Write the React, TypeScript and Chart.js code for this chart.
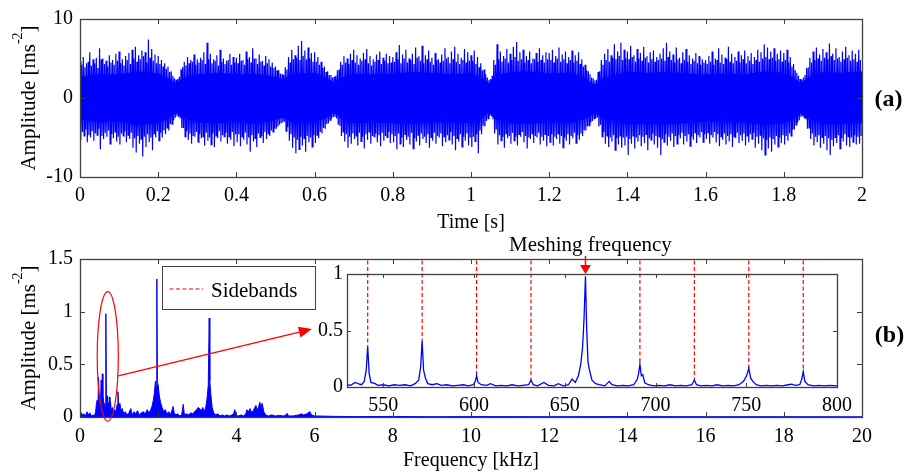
import React, { useEffect, useRef } from "react";
import { Chart, registerables } from "chart.js";

Chart.register(...registerables);

const SERIF = "'Liberation Serif', 'Times New Roman', serif";
const BLUE = "#0000ff";
const RED = "#ff0000";
const AXIS = "#404040";

// ---------- (a) time signal ----------
const TIME_TICKS = [0, 0.2, 0.4, 0.6, 0.8, 1, 1.2, 1.4, 1.6, 1.8, 2];
const ACC_TICKS = [-10, 0, 10];

// envelope of the solid core of the vibration trace [s] / [m/s^2]
const CORE_T = [0, 0.05, 0.1, 0.15, 0.2, 0.228, 0.245, 0.262, 0.3, 0.35, 0.4, 0.45, 0.5, 0.518, 0.54, 0.6, 0.63, 0.648, 0.666, 0.7, 0.75, 0.8, 0.85, 0.9, 0.95, 1.0, 1.028, 1.045, 1.062, 1.1, 1.15, 1.2, 1.25, 1.29, 1.315, 1.34, 1.4, 1.45, 1.5, 1.55, 1.6, 1.65, 1.7, 1.75, 1.8, 1.825, 1.843, 1.86, 1.9, 1.95, 2.0];
const CORE_HI = [2.7, 3.0, 3.0, 3.4, 3.1, 2.5, 1.9, 2.5, 3.0, 3.2, 3.0, 3.1, 2.7, 2.3, 3.0, 3.2, 2.6, 2.0, 2.5, 3.1, 3.0, 3.1, 3.3, 3.2, 3.0, 3.1, 2.5, 1.9, 2.8, 3.3, 3.4, 3.1, 3.2, 2.6, 1.7, 2.5, 3.4, 3.2, 3.3, 3.1, 3.0, 3.1, 3.0, 3.4, 3.2, 2.6, 1.9, 2.5, 3.3, 3.2, 3.4];
const CORE_LO = [-2.8, -3.1, -3.0, -3.5, -3.2, -2.5, -1.9, -2.5, -3.1, -3.2, -3.1, -3.3, -2.8, -2.5, -3.1, -3.2, -2.5, -1.9, -2.5, -3.2, -3.1, -3.2, -3.3, -3.1, -3.1, -3.2, -2.6, -1.8, -2.7, -3.2, -3.3, -3.1, -3.2, -2.7, -2.0, -2.5, -3.4, -3.3, -3.4, -3.2, -3.0, -3.1, -3.1, -3.4, -3.2, -2.7, -2.0, -2.6, -3.3, -3.3, -3.2];

// outer positive / negative peaks of the trace, 24 per 0.2 s
const PEAK_HI = [
  4.6, 5.2, 4.4, 5.8, 4.9, 5.1, 6.3, 5.0, 4.7, 5.4, 4.8, 5.6, 5.9, 4.9, 5.3, 5.7, 6.1, 6.5, 5.4, 6.0, 5.8, 7.4, 6.2, 5.5,
  5.3, 4.8, 4.4, 4.0, 3.4, 2.5, 2.4, 3.6, 4.6, 5.2, 4.8, 5.5, 4.9, 5.1, 5.8, 7.0, 5.6, 4.9, 5.4, 6.1, 5.0, 4.7, 5.6, 5.2,
  5.1, 5.6, 4.8, 5.9, 5.2, 6.3, 5.0, 5.5, 4.7, 5.3, 4.9, 4.5, 4.0, 3.5, 3.0, 3.9, 5.2, 6.1, 5.4, 6.6, 7.2, 6.0, 6.4, 5.7,
  5.8, 5.2, 4.6, 4.0, 3.4, 2.9, 2.7, 3.5, 4.6, 5.3, 5.0, 5.6, 6.1, 5.4, 5.0, 5.7, 6.2, 5.3, 4.9, 5.5, 5.9, 5.1, 5.6, 5.3,
  5.2, 5.8, 6.7, 5.5, 6.1, 5.0, 5.6, 6.4, 5.3, 6.6, 5.4, 6.0, 5.1, 5.7, 4.9, 5.5, 6.3, 5.2, 5.9, 6.5, 5.6, 5.1, 6.2, 5.8,
  5.4, 6.0, 5.2, 4.4, 3.6, 2.6, 2.4, 4.8, 6.8, 5.9, 5.3, 6.2, 5.6, 6.5, 7.1, 5.8, 6.1, 5.3, 5.9, 5.0, 5.7, 6.3, 5.4, 5.8,
  5.7, 6.1, 5.3, 6.4, 5.5, 5.9, 5.2, 6.0, 5.4, 5.8, 4.9, 4.2, 3.4, 2.6, 2.2, 3.3, 4.8, 5.6, 6.2, 5.4, 6.8, 5.9, 7.0, 6.1,
  5.9, 6.6, 5.4, 6.2, 5.7, 6.5, 5.3, 5.8, 6.0, 5.2, 5.6, 6.3, 7.0, 5.9, 5.5, 6.4, 5.1, 5.8, 6.2, 5.4, 5.0, 5.7, 5.3, 4.9,
  4.8, 5.3, 5.9, 5.0, 6.3, 5.5, 5.1, 6.5, 5.6, 5.2, 5.9, 5.4, 6.0, 5.3, 5.7, 5.2, 6.1, 5.8, 6.8, 6.4, 5.9, 6.3, 5.6, 6.0,
  5.7, 6.1, 5.2, 4.3, 3.2, 2.4, 2.6, 3.8, 5.1, 5.9, 6.4, 5.5, 6.2, 5.8, 6.9, 5.6, 6.3, 5.2, 5.9, 6.5, 5.4, 6.0, 5.6, 6.1,
];
const PEAK_LO = [
  -5.3, -4.8, -5.6, -5.0, -5.4, -4.7, -6.5, -5.2, -4.9, -5.8, -5.1, -5.5, -5.9, -4.8, -5.6, -5.2, -6.3, -6.9, -5.8, -7.4, -6.2, -5.6, -6.6, -5.0,
  -5.4, -5.0, -4.6, -4.1, -3.3, -2.5, -2.4, -3.8, -4.9, -5.3, -5.8, -4.9, -5.6, -5.1, -6.0, -5.4, -5.9, -6.2, -5.1, -5.5, -4.9, -5.8, -5.3, -6.1,
  -5.6, -6.1, -5.3, -5.9, -6.8, -5.5, -6.2, -5.0, -5.7, -5.2, -4.8, -4.3, -3.9, -3.4, -3.1, -4.2, -5.4, -6.3, -7.0, -6.5, -6.0, -6.8, -5.6, -6.2,
  -5.7, -5.1, -4.5, -3.9, -3.2, -2.6, -2.4, -3.4, -4.8, -5.5, -6.3, -5.8, -5.2, -6.0, -5.5, -6.4, -5.3, -5.8, -4.9, -5.6, -6.1, -5.4, -5.0, -5.7,
  -5.6, -6.5, -5.8, -6.2, -5.3, -5.9, -6.4, -5.5, -6.0, -5.2, -5.7, -6.3, -5.4, -5.8, -5.0, -6.1, -5.6, -5.3, -5.9, -6.6, -5.5, -6.2, -5.4, -6.0,
  -6.2, -5.5, -7.0, -4.6, -3.6, -2.6, -2.3, -4.5, -5.9, -5.4, -6.3, -5.1, -5.8, -5.4, -6.0, -4.9, -5.6, -6.4, -5.2, -5.7, -5.0, -5.9, -5.4, -6.1,
  -5.6, -6.0, -5.2, -5.8, -6.3, -5.4, -5.9, -5.1, -5.7, -5.3, -4.8, -4.1, -3.5, -2.9, -2.6, -3.6, -4.9, -5.8, -6.2, -5.5, -6.6, -5.9, -6.3, -6.0,
  -7.2, -5.8, -6.4, -5.5, -6.1, -5.7, -6.6, -5.3, -5.9, -6.3, -7.2, -5.6, -6.0, -5.4, -6.2, -5.8, -5.1, -5.9, -5.5, -6.1, -5.3, -5.7, -5.0, -5.6,
  -5.2, -5.8, -5.0, -5.6, -6.1, -5.3, -5.9, -5.5, -6.2, -5.1, -5.7, -5.4, -6.0, -5.6, -5.2, -6.3, -5.8, -6.6, -7.2, -6.4, -6.8, -5.9, -6.2, -5.7,
  -5.9, -5.4, -4.8, -4.0, -3.1, -2.4, -2.5, -3.9, -5.2, -6.0, -5.6, -6.3, -5.8, -6.6, -7.2, -6.1, -5.7, -6.4, -5.5, -6.0, -6.2, -5.6, -5.9, -5.8,
];
// inner peaks, sampled between the outer ones
const INNER_HI = [
  4.2, 3.9, 4.6, 4.1, 4.4, 3.8, 4.9, 4.3, 4.0, 4.5, 4.2, 4.7, 4.4, 4.1, 4.8, 4.3, 5.0, 4.6, 4.9, 5.3, 4.5, 5.1, 4.7, 4.4,
  4.3, 4.0, 3.7, 3.3, 2.8, 2.3, 2.7, 3.9, 4.1, 4.4, 4.6, 4.2, 4.5, 4.8, 4.3, 4.9, 4.4, 4.7, 4.1, 4.6, 4.3, 4.8, 4.2, 4.5,
  4.4, 4.7, 4.2, 4.9, 4.5, 5.0, 4.3, 4.6, 4.1, 4.4, 4.0, 3.8, 3.5, 3.1, 2.9, 3.6, 4.5, 4.9, 5.1, 4.8, 5.3, 4.9, 5.0, 4.6,
  4.6, 4.2, 3.8, 3.3, 2.9, 2.6, 2.8, 3.6, 4.2, 4.5, 4.3, 4.8, 4.5, 4.2, 4.7, 4.9, 4.4, 4.1, 4.6, 4.8, 4.3, 4.7, 4.4, 4.5,
  4.6, 4.9, 4.4, 5.0, 4.5, 4.8, 4.3, 5.1, 4.7, 4.4, 4.9, 4.6, 4.2, 4.8, 4.5, 4.7, 5.0, 4.4, 4.9, 4.6, 4.3, 4.8, 4.5, 4.7,
  4.7, 4.3, 3.9, 3.5, 3.0, 2.3, 2.8, 4.2, 4.9, 4.6, 5.0, 4.5, 4.8, 5.2, 4.7, 4.9, 4.5, 4.8, 4.4, 4.9, 4.6, 4.8, 4.5, 4.9,
  4.8, 4.5, 5.0, 4.6, 4.9, 4.4, 4.8, 4.5, 4.7, 4.3, 4.0, 3.5, 3.0, 2.5, 2.3, 3.4, 4.2, 4.8, 4.6, 5.1, 4.9, 5.3, 4.8, 5.0,
  4.9, 5.2, 4.6, 5.0, 4.7, 5.1, 4.5, 4.9, 4.6, 4.8, 5.0, 4.7, 5.2, 4.8, 4.5, 4.9, 4.4, 4.8, 4.6, 4.3, 4.7, 4.4, 4.2, 4.5,
  4.3, 4.6, 4.2, 4.8, 4.5, 4.3, 4.9, 4.6, 4.4, 4.7, 4.5, 4.9, 4.4, 4.7, 4.3, 4.8, 4.6, 5.0, 5.2, 4.9, 5.1, 4.7, 4.9, 4.6,
  4.8, 4.5, 4.0, 3.5, 2.8, 2.3, 2.9, 3.9, 4.5, 4.8, 5.0, 4.7, 5.1, 4.9, 5.3, 4.8, 5.0, 4.6, 4.9, 5.1, 4.7, 4.9, 4.6, 4.8,
];
const INNER_LO = [
  -4.3, -4.0, -4.7, -4.2, -4.5, -3.9, -4.8, -4.4, -4.1, -4.6, -4.3, -4.9, -4.5, -4.2, -4.7, -4.4, -5.1, -4.8, -5.2, -4.9, -4.6, -5.0, -4.5, -4.2,
  -4.4, -4.1, -3.8, -3.3, -2.8, -2.3, -2.6, -3.8, -4.2, -4.5, -4.8, -4.3, -4.6, -4.9, -4.4, -5.0, -4.5, -4.8, -4.2, -4.7, -4.4, -4.9, -4.3, -4.6,
  -4.6, -4.9, -4.4, -5.0, -4.7, -5.1, -4.5, -4.8, -4.3, -4.5, -4.1, -3.9, -3.6, -3.2, -3.0, -3.7, -4.6, -5.0, -5.3, -4.9, -5.1, -4.8, -5.0, -4.7,
  -4.7, -4.3, -3.8, -3.3, -2.8, -2.4, -2.6, -3.5, -4.3, -4.6, -4.9, -4.5, -4.8, -4.4, -4.9, -4.6, -4.3, -4.8, -4.5, -4.7, -4.4, -4.8, -4.3, -4.6,
  -4.8, -4.5, -5.0, -4.6, -4.9, -4.4, -5.1, -4.7, -4.5, -4.9, -4.6, -5.0, -4.4, -4.8, -4.5, -4.9, -4.7, -4.3, -4.8, -5.1, -4.6, -4.9, -4.5, -5.0,
  -4.9, -4.6, -4.1, -3.5, -2.9, -2.2, -2.7, -4.0, -4.7, -4.9, -4.5, -4.8, -4.4, -4.9, -4.6, -4.3, -4.8, -5.0, -4.5, -4.8, -4.4, -4.9, -4.6, -4.8,
  -4.6, -4.9, -4.5, -4.8, -5.0, -4.6, -4.8, -4.4, -4.7, -4.5, -4.1, -3.6, -3.1, -2.6, -2.5, -3.4, -4.3, -4.8, -5.0, -4.7, -5.1, -4.8, -5.0, -4.9,
  -5.2, -4.8, -5.0, -4.7, -4.9, -4.6, -5.1, -4.5, -4.8, -4.9, -5.2, -4.6, -4.9, -4.5, -4.8, -4.7, -4.4, -4.8, -4.6, -4.9, -4.4, -4.7, -4.3, -4.6,
  -4.4, -4.7, -4.3, -4.6, -4.9, -4.5, -4.8, -4.6, -4.9, -4.4, -4.7, -4.5, -4.8, -4.6, -4.4, -4.9, -4.7, -5.1, -5.3, -5.0, -5.2, -4.8, -5.0, -4.7,
  -4.8, -4.5, -4.0, -3.4, -2.8, -2.3, -2.7, -3.8, -4.5, -4.9, -4.7, -5.0, -4.8, -5.1, -5.3, -5.0, -4.7, -5.1, -4.6, -4.9, -5.0, -4.7, -4.9, -4.8,
];

// ---------- (b) amplitude spectrum ----------
const FREQ_TICKS = [0, 2, 4, 6, 8, 10, 12, 14, 16, 18, 20];
const AMP_TICKS = [0, 0.5, 1, 1.5];
// [kHz, m/s^2]
const SPECTRUM: [number, number][] = [
  [0.00, 0.02], [0.04, 0.04], [0.07, 0.01], [0.10, 0.03], [0.14, 0.01], [0.18, 0.05], [0.21, 0.02], [0.25, 0.04],
  [0.29, 0.01], [0.33, 0.02], [0.37, 0.01], [0.40, 0.05], [0.42, 0.13], [0.44, 0.16], [0.46, 0.11], [0.475, 0.38],
  [0.49, 0.14], [0.51, 0.2], [0.525, 0.12], [0.541, 0.35], [0.556, 0.15], [0.571, 0.41], [0.586, 0.12], [0.601, 0.18],
  [0.616, 0.08], [0.631, 0.13], [0.646, 0.1], [0.661, 0.98], [0.676, 0.12], [0.691, 0.2], [0.706, 0.09], [0.721, 0.13],
  [0.736, 0.08], [0.751, 0.19], [0.766, 0.1], [0.781, 0.14], [0.80, 0.06], [0.83, 0.09], [0.86, 0.04], [0.89, 0.07],
  [0.92, 0.05], [0.95, 0.12], [0.97, 0.24], [0.99, 0.1], [1.02, 0.13], [1.05, 0.06], [1.08, 0.08], [1.12, 0.03],
  [1.16, 0.05], [1.20, 0.02], [1.25, 0.04], [1.30, 0.08], [1.33, 0.02], [1.38, 0.05], [1.42, 0.03], [1.47, 0.06],
  [1.52, 0.02], [1.57, 0.04], [1.62, 0.05], [1.67, 0.03], [1.72, 0.07], [1.76, 0.04], [1.80, 0.06], [1.84, 0.1],
  [1.87, 0.15], [1.90, 0.22], [1.93, 0.34], [1.95, 0.28], [1.965, 1.31], [1.98, 0.33], [2.00, 0.3], [2.03, 0.2],
  [2.06, 0.14], [2.10, 0.09], [2.14, 0.05], [2.18, 0.07], [2.22, 0.03], [2.27, 0.05], [2.31, 0.02], [2.35, 0.06],
  [2.38, 0.1], [2.41, 0.04], [2.45, 0.02], [2.50, 0.03], [2.55, 0.01], [2.60, 0.02], [2.64, 0.12], [2.67, 0.02],
  [2.72, 0.03], [2.78, 0.02], [2.83, 0.04], [2.88, 0.03], [2.93, 0.05], [2.98, 0.07], [3.02, 0.09], [3.06, 0.08],
  [3.10, 0.06], [3.14, 0.09], [3.18, 0.05], [3.22, 0.1], [3.25, 0.18], [3.28, 0.3], [3.305, 0.94], [3.32, 0.34],
  [3.35, 0.2], [3.38, 0.09], [3.42, 0.04], [3.47, 0.02], [3.52, 0.03], [3.58, 0.01], [3.64, 0.02], [3.70, 0.01],
  [3.76, 0.02], [3.82, 0.01], [3.88, 0.02], [3.93, 0.03], [3.96, 0.07], [3.99, 0.02], [4.05, 0.01], [4.12, 0.02],
  [4.18, 0.01], [4.24, 0.03], [4.27, 0.07], [4.31, 0.05], [4.35, 0.08], [4.39, 0.04], [4.43, 0.06], [4.47, 0.09],
  [4.50, 0.11], [4.53, 0.06], [4.57, 0.1], [4.60, 0.14], [4.63, 0.09], [4.66, 0.13], [4.70, 0.05], [4.75, 0.02],
  [4.82, 0.01], [4.90, 0.02], [5.00, 0.01], [5.10, 0.015], [5.20, 0.01], [5.27, 0.02], [5.30, 0.035], [5.33, 0.01],
  [5.45, 0.01], [5.60, 0.02], [5.66, 0.03], [5.72, 0.02], [5.80, 0.03], [5.88, 0.05], [5.92, 0.02], [6.00, 0.01],
  [6.50, 0.006], [7.00, 0.004], [8.00, 0.005], [9.00, 0.003], [10.0, 0.004], [12.0, 0.003], [14.0, 0.004],
  [16.0, 0.003], [18.0, 0.003], [20.0, 0.002],
];

// ---------- zoomed spectrum around the meshing frequency ----------
const ZOOM_HZ_TICKS = [550, 600, 650, 700, 750, 800];
const ZOOM_AMP_TICKS = [0, 0.5, 1];
// [Hz, m/s^2]
const ZOOM_SPECTRUM: [number, number][] = [
  [530, 0.02], [532, 0.015], [534.5, 0.04], [536, 0.03], [538, 0.02], [539.5, 0.05], [540.6, 0.15], [541.4, 0.36],
  [542.2, 0.12], [543.2, 0.04], [545.5, 0.03], [547, 0.015], [550, 0.02], [553, 0.01], [556, 0.02], [559, 0.015],
  [562, 0.02], [565, 0.01], [567.5, 0.03], [569.5, 0.06], [570.6, 0.18], [571.4, 0.41], [572.2, 0.15], [573.2, 0.08],
  [574.5, 0.03], [577, 0.02], [579.5, 0.03], [582, 0.015], [585, 0.02], [588, 0.01], [591, 0.015], [594, 0.02],
  [597, 0.01], [599.5, 0.02], [600.7, 0.05], [601.4, 0.1], [602.2, 0.04], [604, 0.02], [607, 0.015], [609, 0.03],
  [612, 0.01], [615, 0.015], [618, 0.01], [621, 0.02], [624, 0.01], [627, 0.015], [630, 0.02], [631.4, 0.06],
  [632.6, 0.02], [635, 0.01], [638.5, 0.04], [641, 0.015], [644, 0.01], [646.5, 0.03], [649, 0.01], [652, 0.02],
  [654, 0.07], [655.8, 0.04], [657.5, 0.1], [658.8, 0.2], [659.8, 0.35], [660.6, 0.6], [661.4, 0.98], [662.1, 0.5],
  [662.8, 0.22], [663.6, 0.15], [665, 0.06], [667, 0.03], [669, 0.02], [672, 0.01], [674.5, 0.05], [676, 0.02],
  [679, 0.01], [682, 0.015], [685, 0.01], [688, 0.02], [690, 0.07], [690.7, 0.12], [691.4, 0.2], [692.2, 0.1],
  [693, 0.11], [694, 0.04], [696, 0.02], [699, 0.01], [702, 0.015], [705, 0.01], [708, 0.02], [711, 0.01],
  [714, 0.015], [717, 0.01], [720, 0.02], [721.4, 0.06], [722.6, 0.02], [725, 0.01], [728, 0.015], [731, 0.01],
  [734, 0.02], [737, 0.01], [740, 0.015], [743, 0.01], [746, 0.02], [748.5, 0.05], [750.2, 0.1], [751.4, 0.165],
  [752.4, 0.08], [753.6, 0.05], [755.5, 0.02], [758, 0.01], [761, 0.015], [764, 0.01], [767, 0.015], [770, 0.01],
  [773, 0.02], [775, 0.025], [777, 0.015], [779.5, 0.02], [780.6, 0.07], [781.4, 0.136], [782.3, 0.05], [784, 0.02],
  [787, 0.01], [790, 0.015], [793, 0.01], [796, 0.015], [800, 0.01],
];
const MESH_HZ = 661.4;
const SIDEBAND_HZ = [541.4, 571.4, 601.4, 631.4, 691.4, 721.4, 751.4, 781.4];
const SIDEBAND_TOP = 1.12;

// highlighted low-frequency region and pointer to the zoom panel (kHz, m/s^2)
const ELLIPSE = { kHz: 0.71, amp: 0.575, rKHz: 0.27, rAmp: 0.615 };
const POINTER_FROM: [number, number] = [0.98, 0.39];
const POINTER_TO: [number, number] = [5.93, 0.835];

const fmt = (v: number) => String(Number(v.toFixed(2)));

function axis(min: number, max: number, ticks: number[], pad: number, extra: any = {}) {
  return {
    type: "linear",
    min,
    max,
    grid: { display: false, drawTicks: false },
    border: { display: false },
    afterBuildTicks: (s: any) => {
      s.ticks = ticks.map((v) => ({ value: v }));
    },
    ticks: {
      autoSkip: false,
      maxRotation: 0,
      padding: pad,
      color: "#000",
      font: { family: SERIF, size: 20 },
      callback: (v: any) => fmt(Number(v)),
    },
    ...extra,
  };
}

function drawFrame(chart: any, len: number) {
  const { ctx, chartArea: a } = chart;
  const xs = chart.scales.x;
  const ys = chart.scales.y;
  ctx.save();
  ctx.strokeStyle = AXIS;
  ctx.lineWidth = 1;
  ctx.beginPath();
  for (const t of xs.ticks) {
    const p = Math.round(xs.getPixelForValue(t.value)) + 0.5;
    ctx.moveTo(p, a.bottom);
    ctx.lineTo(p, a.bottom - len);
    ctx.moveTo(p, a.top);
    ctx.lineTo(p, a.top + len);
  }
  for (const t of ys.ticks) {
    const p = Math.round(ys.getPixelForValue(t.value)) + 0.5;
    ctx.moveTo(a.left, p);
    ctx.lineTo(a.left + len, p);
    ctx.moveTo(a.right, p);
    ctx.lineTo(a.right - len, p);
  }
  ctx.stroke();
  ctx.lineWidth = 1.3;
  ctx.strokeRect(Math.round(a.left) + 0.5, Math.round(a.top) + 0.5, Math.round(a.right - a.left), Math.round(a.bottom - a.top));
  ctx.restore();
}

function drawAmpTitle(ctx: CanvasRenderingContext2D, x: number, cy: number) {
  const main = `21px ${SERIF}`;
  const sup = `14px ${SERIF}`;
  const a = "Amplitude [ms";
  const b = "-2";
  const c = "]";
  ctx.save();
  ctx.translate(x, cy);
  ctx.rotate(-Math.PI / 2);
  ctx.fillStyle = "#000";
  ctx.textAlign = "left";
  ctx.textBaseline = "alphabetic";
  ctx.font = main;
  const wa = ctx.measureText(a).width;
  const wc = ctx.measureText(c).width;
  ctx.font = sup;
  const wb = ctx.measureText(b).width;
  let px = -(wa + wb + wc) / 2;
  ctx.font = main;
  ctx.fillText(a, px, 0);
  px += wa;
  ctx.font = sup;
  ctx.fillText(b, px, -13);
  px += wb;
  ctx.font = main;
  ctx.fillText(c, px, 0);
  ctx.restore();
}

function panelTag(ctx: CanvasRenderingContext2D, text: string, x: number, y: number) {
  ctx.save();
  ctx.font = `bold 24px ${SERIF}`;
  ctx.fillStyle = "#000";
  ctx.textAlign = "center";
  ctx.textBaseline = "middle";
  ctx.fillText(text, x, y);
  ctx.restore();
}

const baseOptions = {
  responsive: false,
  animation: false,
  devicePixelRatio: 1,
  events: [],
  plugins: { legend: { display: false }, tooltip: { enabled: false } },
  elements: { point: { radius: 0 }, line: { tension: 0 } },
};

function makeTimeChart(canvas: HTMLCanvasElement) {
  // samples alternate: outer high, outer low, inner high, inner low
  const dt = 2 / PEAK_HI.length;
  const trace: { x: number; y: number }[] = [];
  PEAK_HI.forEach((v, i) => {
    trace.push({ x: i * dt, y: v });
    trace.push({ x: (i + 0.25) * dt, y: PEAK_LO[i] });
    trace.push({ x: (i + 0.5) * dt, y: INNER_HI[i] });
    trace.push({ x: (i + 0.75) * dt, y: INNER_LO[i] });
  });
  const hi = CORE_T.map((t, i) => ({ x: t, y: CORE_HI[i] }));
  const lo = CORE_T.map((t, i) => ({ x: t, y: CORE_LO[i] }));

  const decor = {
    id: "timeDecor",
    afterDraw(chart: any) {
      drawFrame(chart, 5);
      const a = chart.chartArea;
      drawAmpTitle(chart.ctx, 35, (a.top + a.bottom) / 2);
      panelTag(chart.ctx, "(a)", 888.5, 100);
    },
  };

  return new Chart(canvas, {
    type: "line",
    data: {
      datasets: [
        { data: trace, borderColor: BLUE, borderWidth: 1.2, pointRadius: 0, fill: false },
        { data: hi, borderColor: "rgba(0,0,0,0)", backgroundColor: BLUE, pointRadius: 0, fill: "+1" },
        { data: lo, borderColor: "rgba(0,0,0,0)", pointRadius: 0, fill: false },
      ],
    },
    options: {
      ...baseOptions,
      layout: { padding: { left: 0, top: 19, right: 54, bottom: 0 } },
      scales: {
        x: axis(0, 2, TIME_TICKS, 7, {
          title: { display: true, text: "Time [s]", color: "#000", font: { family: SERIF, size: 20 }, padding: { top: 0, bottom: 5 } },
          afterFit: (s: any) => { s.height = 63; },
        }),
        y: axis(-10, 10, ACC_TICKS, 7, { afterFit: (s: any) => { s.width = 80; } }),
      },
    } as any,
    plugins: [decor],
  });
}

function makeSpectrumChart(canvas: HTMLCanvasElement) {
  const pts = SPECTRUM.map(([f, a]) => ({ x: f, y: a }));

  const decor = {
    id: "spectrumDecor",
    afterDraw(chart: any) {
      const { ctx, chartArea: a } = chart;
      const xs = chart.scales.x;
      const ys = chart.scales.y;
      drawFrame(chart, 5);
      drawAmpTitle(ctx, 35, (a.top + a.bottom) / 2);
      panelTag(ctx, "(b)", 889.5, 96);

      // legend
      const lx = Math.round(a.left) + 82;
      const ly = Math.round(a.top) + 7;
      ctx.save();
      ctx.fillStyle = "#fff";
      ctx.fillRect(lx, ly, 153, 43);
      ctx.strokeStyle = AXIS;
      ctx.lineWidth = 1;
      ctx.strokeRect(lx + 0.5, ly + 0.5, 153, 43);
      ctx.strokeStyle = RED;
      ctx.lineWidth = 1.2;
      ctx.setLineDash([4, 2.5]);
      ctx.beginPath();
      ctx.moveTo(lx + 7.5, ly + 23);
      ctx.lineTo(lx + 41, ly + 23);
      ctx.stroke();
      ctx.setLineDash([]);
      ctx.fillStyle = "#000";
      ctx.font = `21px ${SERIF}`;
      ctx.textAlign = "left";
      ctx.textBaseline = "alphabetic";
      ctx.fillText("Sidebands", lx + 49, ly + 30.5);

      // ellipse around the meshing cluster
      const cx = xs.getPixelForValue(ELLIPSE.kHz);
      const cy = ys.getPixelForValue(ELLIPSE.amp);
      const rx = xs.getPixelForValue(ELLIPSE.kHz + ELLIPSE.rKHz) - cx;
      const ry = cy - ys.getPixelForValue(ELLIPSE.amp + ELLIPSE.rAmp);
      ctx.strokeStyle = RED;
      ctx.lineWidth = 1.2;
      ctx.beginPath();
      ctx.ellipse(cx, cy, rx, ry, 0, 0, Math.PI * 2);
      ctx.stroke();

      // pointer to the zoom panel
      const x0 = xs.getPixelForValue(POINTER_FROM[0]);
      const y0 = ys.getPixelForValue(POINTER_FROM[1]);
      const x1 = xs.getPixelForValue(POINTER_TO[0]);
      const y1 = ys.getPixelForValue(POINTER_TO[1]);
      const ang = Math.atan2(y1 - y0, x1 - x0);
      const L = 13;
      const W = 5.5;
      const bx = x1 - L * Math.cos(ang);
      const by = y1 - L * Math.sin(ang);
      ctx.beginPath();
      ctx.moveTo(x0, y0);
      ctx.lineTo(bx, by);
      ctx.stroke();
      ctx.fillStyle = RED;
      ctx.beginPath();
      ctx.moveTo(x1, y1);
      ctx.lineTo(bx + W * Math.sin(ang), by - W * Math.cos(ang));
      ctx.lineTo(bx - W * Math.sin(ang), by + W * Math.cos(ang));
      ctx.closePath();
      ctx.fill();
      ctx.restore();
    },
  };

  return new Chart(canvas, {
    type: "line",
    data: {
      datasets: [
        { data: pts, borderColor: BLUE, backgroundColor: BLUE, borderWidth: 1, pointRadius: 0, fill: "origin" },
      ],
    },
    options: {
      ...baseOptions,
      layout: { padding: { left: 0, top: 19, right: 54, bottom: 0 } },
      scales: {
        x: axis(0, 20, FREQ_TICKS, 8, {
          title: { display: true, text: "Frequency [kHz]", color: "#000", font: { family: SERIF, size: 20 }, padding: { top: 0, bottom: 1 } },
          afterFit: (s: any) => { s.height = 57; },
        }),
        y: axis(0, 1.5, AMP_TICKS, 7, { afterFit: (s: any) => { s.width = 80; } }),
      },
    } as any,
    plugins: [decor],
  });
}

function makeZoomChart(canvas: HTMLCanvasElement) {
  const pts = ZOOM_SPECTRUM.map(([f, a]) => ({ x: f, y: a }));
  const ampAt = (hz: number) => {
    const hit = ZOOM_SPECTRUM.find(([f]) => Math.abs(f - hz) < 0.05);
    return hit ? hit[1] : 0;
  };
  const bands: { x: number; y: number | null }[] = [];
  SIDEBAND_HZ.forEach((hz) => {
    bands.push({ x: hz, y: SIDEBAND_TOP });
    bands.push({ x: hz, y: ampAt(hz) });
    bands.push({ x: hz, y: null });
  });

  const decor = {
    id: "zoomDecor",
    beforeDraw(chart: any) {
      const { ctx, chartArea: a } = chart;
      ctx.save();
      ctx.fillStyle = "#fff";
      ctx.fillRect(a.left, a.top, a.right - a.left, a.bottom - a.top);
      ctx.restore();
    },
    afterDraw(chart: any) {
      const { ctx, chartArea: a } = chart;
      drawFrame(chart, 4);
      const mx = chart.scales.x.getPixelForValue(MESH_HZ);
      const top = Math.round(a.top);
      ctx.save();
      ctx.strokeStyle = RED;
      ctx.fillStyle = RED;
      ctx.lineWidth = 1.5;
      ctx.beginPath();
      ctx.moveTo(mx, top - 18);
      ctx.lineTo(mx, top - 8);
      ctx.stroke();
      ctx.beginPath();
      ctx.moveTo(mx - 5.5, top - 9);
      ctx.lineTo(mx + 5.5, top - 9);
      ctx.lineTo(mx, top);
      ctx.closePath();
      ctx.fill();
      ctx.fillStyle = "#000";
      ctx.font = `21px ${SERIF}`;
      ctx.textAlign = "center";
      ctx.textBaseline = "alphabetic";
      ctx.fillText("Meshing frequency", mx + 5, top - 23);
      ctx.restore();
    },
  };

  return new Chart(canvas, {
    type: "line",
    data: {
      datasets: [
        { data: pts, borderColor: BLUE, borderWidth: 1.3, pointRadius: 0, fill: false },
        { data: bands, borderColor: RED, borderWidth: 1.2, borderDash: [4, 2.5], pointRadius: 0, fill: false, spanGaps: false, clip: false },
      ],
    },
    options: {
      ...baseOptions,
      layout: { padding: { left: 0, top: 44, right: 20, bottom: 0 } },
      scales: {
        x: axis(530, 800, ZOOM_HZ_TICKS, 7, { afterFit: (s: any) => { s.height = 33; } }),
        y: axis(0, 1, ZOOM_AMP_TICKS, 4, { afterFit: (s: any) => { s.width = 57; } }),
      },
    } as any,
    plugins: [decor],
  });
}

export default function App() {
  const timeRef = useRef<HTMLCanvasElement>(null);
  const specRef = useRef<HTMLCanvasElement>(null);
  const zoomRef = useRef<HTMLCanvasElement>(null);

  useEffect(() => {
    const charts = [
      makeTimeChart(timeRef.current!),
      makeSpectrumChart(specRef.current!),
      makeZoomChart(zoomRef.current!),
    ];
    return () => charts.forEach((c) => c.destroy());
  }, []);

  return (
    <div style={{ position: "absolute", left: 0, top: 0, width: 916, height: 474, background: "#fff", overflow: "hidden" }}>
      <canvas ref={timeRef} width={916} height={240} style={{ position: "absolute", left: 0, top: 0 }} />
      <canvas ref={specRef} width={916} height={234} style={{ position: "absolute", left: 0, top: 240 }} />
      <canvas ref={zoomRef} width={569} height={190} style={{ position: "absolute", left: 290, top: 230 }} />
    </div>
  );
}
